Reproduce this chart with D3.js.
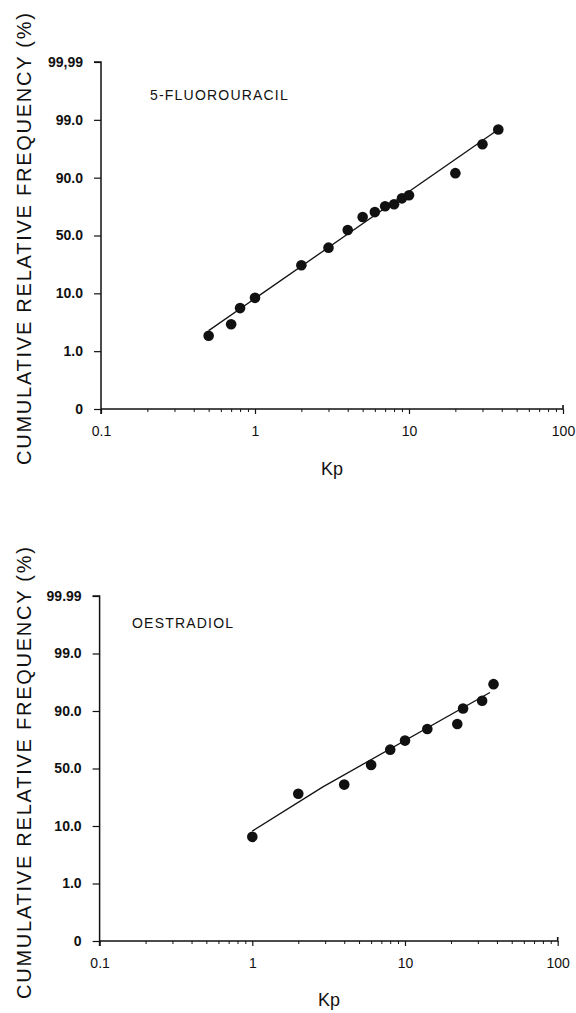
<!DOCTYPE html>
<html>
<head>
<meta charset="utf-8">
<script src="https://cdn.jsdelivr.net/npm/d3@7"></script>
<style>
  html, body { margin: 0; padding: 0; background: #fff; }
  svg { display: block; font-family: "Liberation Sans", Arial, sans-serif; }
</style>
</head>
<body>
<div id="chart"></div>
<script>
// Cumulative relative frequency vs Kp, two drugs (probability-style y axis, log x)
const yTickValues = [0, 1, 10, 50, 90, 99, 99.99];
const xTickValues = [0.1, 1, 10, 100];
const xTickLabels = ["0.1", "1", "10", "100"];

// 5-fluorouracil
const fuKp = [0.5, 0.7, 0.8, 1, 2, 3, 4, 5, 6, 7, 8, 9, 10, 20, 30, 38];
const fuFreq = [3.4, 5.2, 7.7, 9.3, 29.4, 41.6, 53.8, 62.8, 66.2, 70.2, 71.6, 75.7, 77.8, 90.7, 95.2, 97.5];
const fuFitKp = [0.5, 37];
const fuFitFreq = [4.2, 97.3];

// oestradiol
const oeKp = [1, 2, 4, 6, 8, 10, 14, 22, 24, 32, 38];
const oeFreq = [8.3, 32.4, 38.8, 52.5, 63.1, 69.4, 77.5, 81.0, 90.4, 91.6, 94.2];
const oeFitKp = [1, 2.9, 36];
const oeFitFreq = [9.2, 37.2, 92.9];

const W = 576, H = 1013;
const ink = "#111";

const svg = d3.select("#chart").append("svg")
  .attr("width", W).attr("height", H);

function panel(cfg) {
  const g = svg.append("g");
  const x = d3.scaleLog().domain([0.1, 100]).range([cfg.x0, cfg.x1]);
  const step = (cfg.yBottom - cfg.yTop) / (yTickValues.length - 1);
  const y = d3.scaleLinear()
    .domain(yTickValues)
    .range(yTickValues.map((v, i) => cfg.yBottom - i * step));

  // y axis
  const yAxis = d3.axisLeft(y).tickValues(yTickValues).tickSize(7).tickPadding(11)
    .tickFormat((d, i) => cfg.yLabels[i]);
  const ya = g.append("g").attr("transform", `translate(${cfg.x0},0)`).call(yAxis);
  ya.select(".domain").attr("d", `M-7,${cfg.yTop}H0V${cfg.yBottom + 5}`);
  ya.selectAll("line").attr("stroke", ink).attr("stroke-width", 1.2);
  ya.selectAll(".domain").attr("stroke", ink).attr("stroke-width", 1.5);
  ya.selectAll("text").attr("fill", ink).attr("font-size", 14).attr("font-weight", "bold");

  // x axis, minor log ticks
  const minor = [];
  for (let e = -1; e < 2; e++) for (let m = 2; m <= 9; m++) minor.push(m * Math.pow(10, e));
  const xm = g.append("g").attr("transform", `translate(0,${cfg.yBottom})`)
    .call(d3.axisBottom(x).tickValues(minor).tickSize(3).tickFormat(""));
  xm.select(".domain").remove();
  xm.selectAll("line").attr("stroke", ink).attr("stroke-width", 1);

  const xAxis = d3.axisBottom(x).tickValues(xTickValues).tickSize(5).tickPadding(12)
    .tickFormat((d, i) => xTickLabels[i]);
  const xa = g.append("g").attr("transform", `translate(0,${cfg.yBottom})`).call(xAxis);
  xa.select(".domain").attr("d", `M${cfg.x0},0H${cfg.x1}V-4`);
  xa.selectAll(".domain").attr("stroke", ink).attr("stroke-width", 1.6);
  xa.selectAll("line").attr("stroke", ink).attr("stroke-width", 1.2);
  xa.selectAll("text").attr("fill", ink).attr("font-size", 14);

  // fitted line
  const line = d3.line().x(d => x(d[0])).y(d => y(d[1]));
  g.append("path")
    .datum(cfg.fitKp.map((k, i) => [k, cfg.fitFreq[i]]))
    .attr("d", line)
    .attr("fill", "none").attr("stroke", ink).attr("stroke-width", 1.3);

  // points
  g.selectAll("circle.pt")
    .data(cfg.kp.map((k, i) => [k, cfg.freq[i]]))
    .join("circle")
    .attr("class", "pt")
    .attr("cx", d => x(d[0])).attr("cy", d => y(d[1]))
    .attr("r", 5.3).attr("fill", ink);

  // drug name
  g.append("text")
    .attr("x", cfg.nameX).attr("y", cfg.nameY)
    .attr("font-size", 14).attr("letter-spacing", 1.2).attr("fill", ink)
    .text(cfg.name);

  // axis titles
  g.append("text")
    .attr("transform", `translate(31,${cfg.yTitleMid}) rotate(-90)`)
    .attr("text-anchor", "middle")
    .attr("font-size", 20).attr("fill", ink)
    .attr("textLength", 452).attr("lengthAdjust", "spacing")
    .text("CUMULATIVE RELATIVE FREQUENCY (%)");

  g.append("text")
    .attr("x", cfg.kpX).attr("y", cfg.kpY)
    .attr("text-anchor", "middle")
    .attr("font-size", 18).attr("fill", ink)
    .text("Kp");
}

panel({
  x0: 101, x1: 563, yTop: 62, yBottom: 409,
  yLabels: ["0", "1.0", "10.0", "50.0", "90.0", "99.0", "99,99"],
  kp: fuKp, freq: fuFreq, fitKp: fuFitKp, fitFreq: fuFitFreq,
  name: "5-FLUOROURACIL", nameX: 150, nameY: 100,
  yTitleMid: 239, kpX: 332, kpY: 475
});

panel({
  x0: 99.6, x1: 557.7, yTop: 596, yBottom: 941,
  yLabels: ["0", "1.0", "10.0", "50.0", "90.0", "99.0", "99.99"],
  kp: oeKp, freq: oeFreq, fitKp: oeFitKp, fitFreq: oeFitFreq,
  name: "OESTRADIOL", nameX: 132, nameY: 628,
  yTitleMid: 773, kpX: 329, kpY: 1006
});
</script>
</body>
</html>
